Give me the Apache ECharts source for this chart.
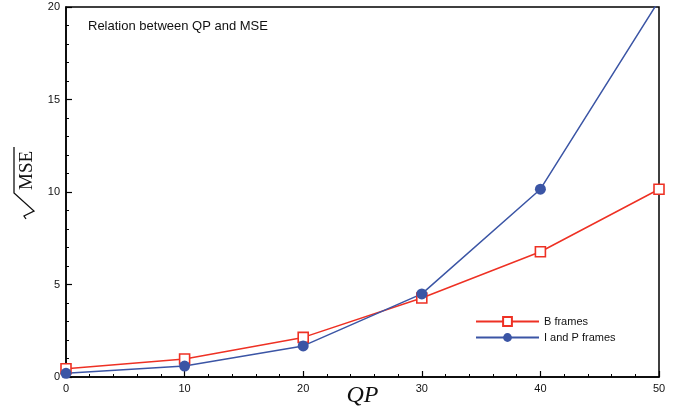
<!DOCTYPE html>
<html>
<head>
<meta charset="utf-8">
<script src="https://cdn.jsdelivr.net/npm/echarts@6/dist/echarts.min.js"></script>
<style>
  html, body { margin: 0; padding: 0; background: #fff; }
  #main { width: 677px; height: 408px; }
</style>
</head>
<body>
<div id="main"></div>
<script>
// values
var qp = [0, 10, 20, 30, 40, 50];
var bFrames = [0.45, 0.97, 2.14, 4.27, 6.77, 10.15];
var ipFrames = [0.2, 0.59, 1.68, 4.49, 10.15, 20.35];
var seriesNames = ["B frames", "I and P frames"];

function pairs(xs, ys) {
  return xs.map(function (x, i) { return [x, ys[i]]; });
}

var chart = echarts.init(document.getElementById("main"));
chart.setOption({
  animation: false,
  backgroundColor: "#fff",
  textStyle: { fontFamily: "Liberation Sans, Arial, sans-serif" },
  title: {
    text: "Relation between QP and MSE",
    left: 83,
    top: 15,
    textStyle: { fontSize: 13, fontWeight: "normal", color: "#111" }
  },
  grid: {
    left: 66, right: 18, top: 7, bottom: 31,
    outerBoundsMode: "none",
    show: true, borderColor: "#000", borderWidth: 1.5
  },
  legend: {
    orient: "vertical",
    left: 470,
    top: 311,
    itemWidth: 63,
    itemHeight: 11,
    itemGap: 5,
    data: seriesNames,
    textStyle: { fontSize: 11, color: "#111" }
  },
  // y axis title: sqrt(MSE) with a drawn radical sign
  graphic: [{
    type: "group",
    x: 33, y: 183,
    rotation: Math.PI / 2,
    children: [
      {
        type: "polyline",
        shape: { points: [[-36, -7], [-33, -9], [-28, 1], [-10, -19], [36, -19]] },
        style: { stroke: "#111", lineWidth: 1.3, fill: null }
      },
      {
        type: "text",
        x: -7, y: -6,
        style: {
          text: "MSE", fill: "#111",
          font: "19px 'Liberation Serif', 'Times New Roman', serif",
          verticalAlign: "middle", align: "left"
        }
      }
    ]
  }],
  xAxis: {
    type: "value",
    min: 0, max: 50, interval: 10,
    name: "QP",
    nameLocation: "middle",
    nameGap: 7,
    nameMoveOverlap: false,
    nameTextStyle: { fontFamily: "Liberation Serif, Times New Roman, serif", fontStyle: "italic", fontSize: 24, color: "#111" },
    axisLine: { lineStyle: { color: "#000", width: 1.5 } },
    axisTick: { inside: true, length: 6, lineStyle: { color: "#000", width: 1.2 } },
    minorTick: { show: true, splitNumber: 5, length: 3, lineStyle: { color: "#000", width: 1 } },
    axisLabel: { fontSize: 11, color: "#111", margin: 6 },
    splitLine: { show: false }
  },
  yAxis: {
    type: "value",
    min: 0, max: 20, interval: 5,
    axisLine: { lineStyle: { color: "#000", width: 1.5 } },
    axisTick: { inside: true, length: 6, lineStyle: { color: "#000", width: 1.2 } },
    minorTick: { show: true, splitNumber: 5, length: 3, lineStyle: { color: "#000", width: 1 } },
    axisLabel: { fontSize: 11, color: "#111", margin: 6 },
    splitLine: { show: false }
  },
  series: [
    {
      name: seriesNames[0],
      type: "line",
      data: pairs(qp, bFrames),
      symbol: "rect",
      symbolSize: 10,
      color: "#ee3124",
      lineStyle: { color: "#ee3124", width: 1.5 },
      itemStyle: { color: "#fff", borderColor: "#ee3124", borderWidth: 1.6 },
      clip: true
    },
    {
      name: seriesNames[1],
      type: "line",
      data: pairs(qp, ipFrames),
      symbol: "circle",
      symbolSize: 11,
      color: "#3b55a5",
      lineStyle: { color: "#3b55a5", width: 1.5 },
      itemStyle: { color: "#3b55a5" },
      clip: true
    }
  ]
});
</script>
</body>
</html>
